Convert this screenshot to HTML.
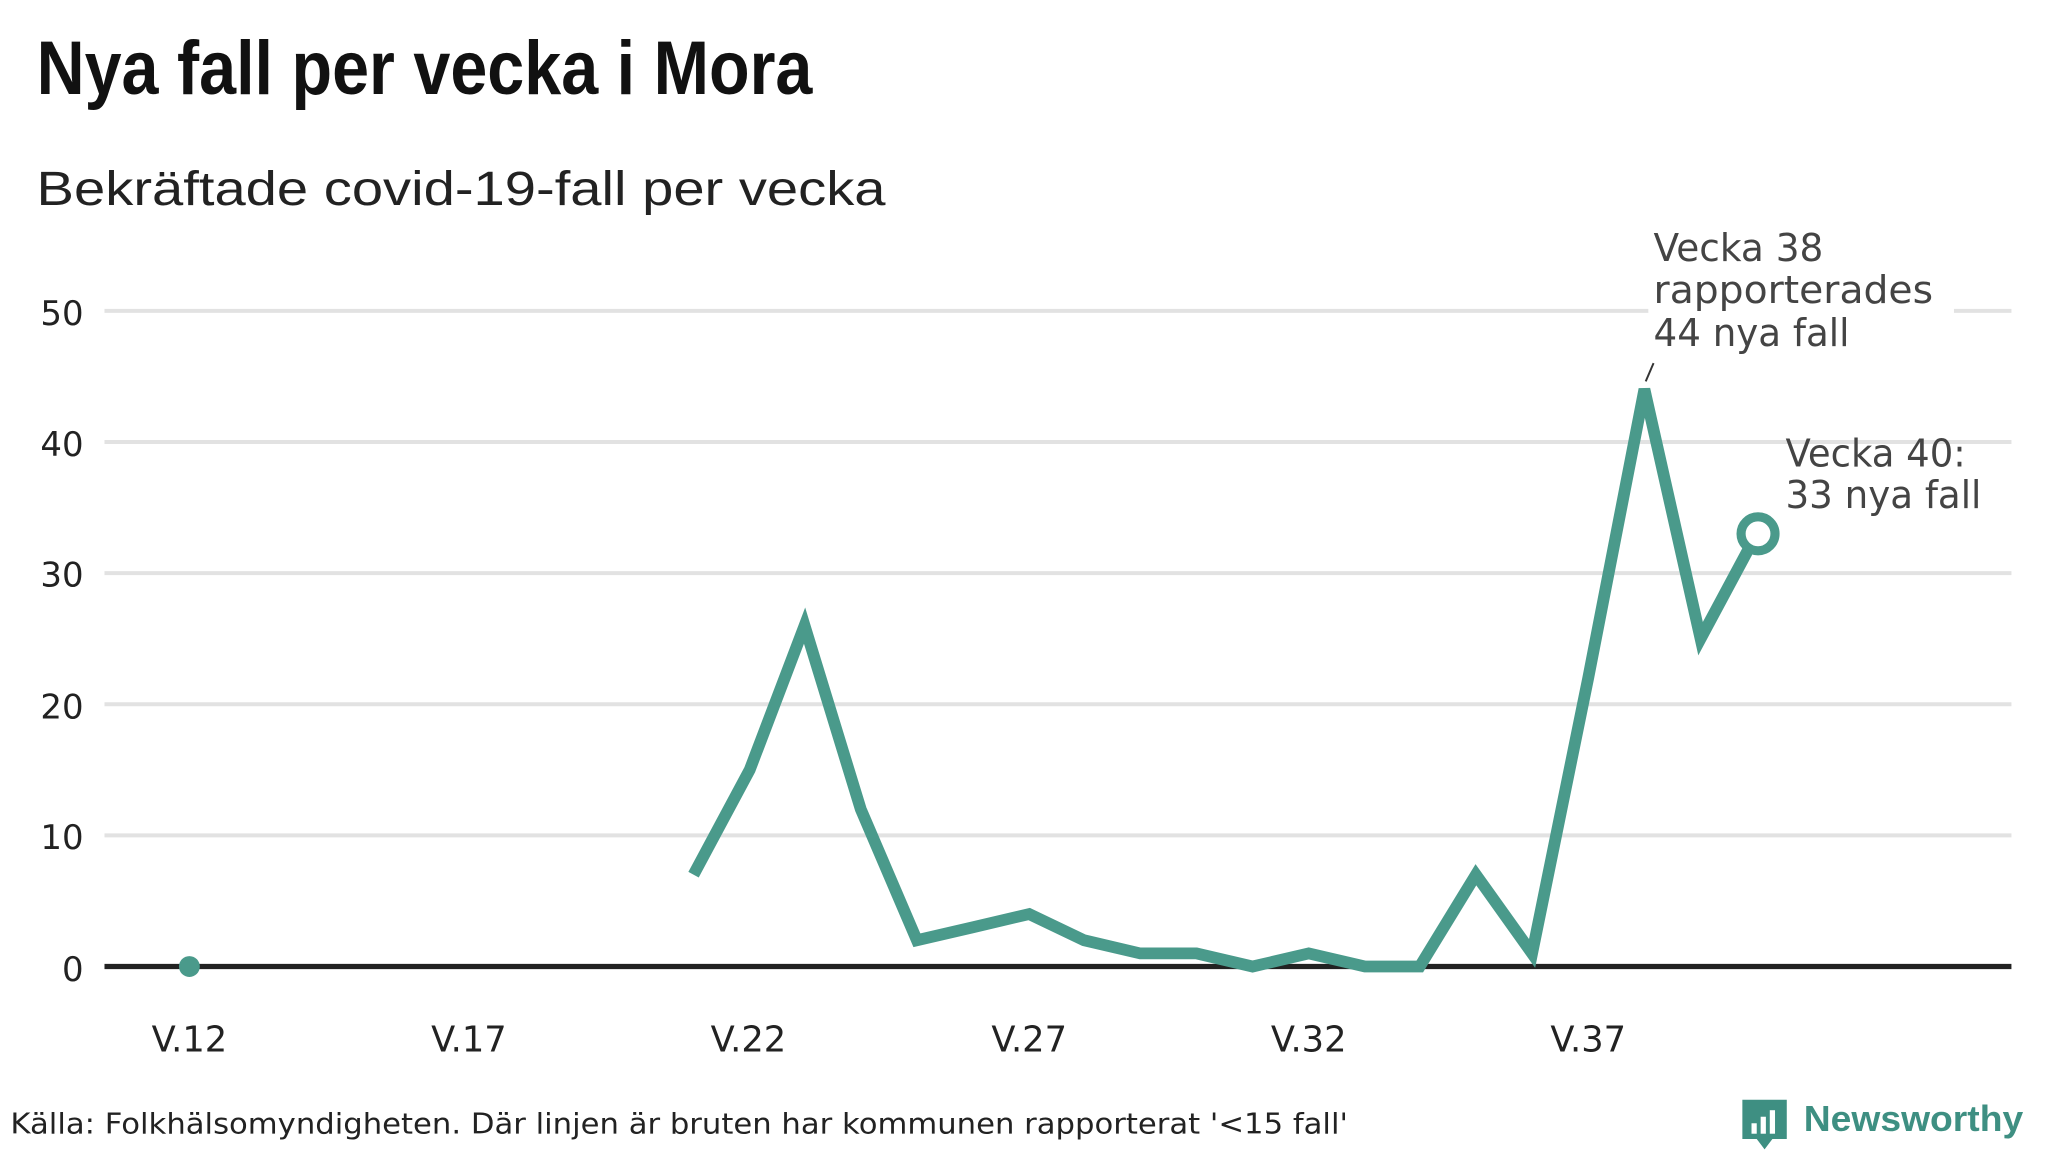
<!DOCTYPE html>
<html><head><meta charset="utf-8"><style>
html,body{margin:0;padding:0;background:#fff;}
svg{display:block;}
text{font-family:"DejaVu Sans","Liberation Sans",sans-serif;}
</style></head><body>
<svg width="2048" height="1152" viewBox="0 0 1568 882" preserveAspectRatio="none" xmlns="http://www.w3.org/2000/svg">
<rect width="1568" height="882" fill="#fff"/>
<text x="28" y="72" font-size="58" font-weight="bold" style="font-family:'Liberation Sans Narrow','Liberation Sans',sans-serif" fill="#111" textLength="594" lengthAdjust="spacingAndGlyphs">Nya fall per vecka i Mora</text>
<text x="28" y="157" font-size="37" fill="#222" style="font-family:'Liberation Sans',sans-serif" textLength="650" lengthAdjust="spacingAndGlyphs">Bekräftade covid-19-fall per vecka</text>
<g stroke="#e2e2e2" stroke-width="3">
<line x1="80" x2="1540" y1="238" y2="238"/>
<line x1="80" x2="1540" y1="338.4" y2="338.4"/>
<line x1="80" x2="1540" y1="438.8" y2="438.8"/>
<line x1="80" x2="1540" y1="539.2" y2="539.2"/>
<line x1="80" x2="1540" y1="639.6" y2="639.6"/>
</g>
<line x1="80" x2="1540" y1="740" y2="740" stroke="#222" stroke-width="4"/>
<g font-size="26" fill="#222" text-anchor="end">
<text x="64" y="249">50</text><text x="64" y="349">40</text><text x="64" y="449">30</text>
<text x="64" y="550">20</text><text x="64" y="650">10</text><text x="64" y="751">0</text>
</g>
<g font-size="27" fill="#222" text-anchor="middle">
<text x="145" y="805">V.12</text><text x="359" y="805">V.17</text><text x="573" y="805">V.22</text>
<text x="788" y="805">V.27</text><text x="1002" y="805">V.32</text><text x="1216" y="805">V.37</text>
</g>
<polyline fill="none" stroke="#4a9a8b" stroke-width="9" stroke-linejoin="miter" points="531,669.7 574,589.4 616,479 659,619.5 702,719.9 745,709.9 788,699.8 830,719.9 873,729.96 916,729.96 959,740 1002,729.96 1045,740 1087,740 1130,669.7 1173,729.96 1216,519 1259,298 1302,489 1345,408.7"/>
<circle cx="145" cy="740" r="8" fill="#4a9a8b"/>
<circle cx="1346" cy="408.7" r="13" fill="#fff" stroke="#4a9a8b" stroke-width="7"/>
<line x1="1260" y1="292" x2="1266" y2="278" stroke="#333" stroke-width="1.5"/>
<rect x="1262" y="228" width="234" height="20" fill="#fff"/>
<g font-size="29" fill="#444">
<text x="1266" y="200" textLength="130" lengthAdjust="spacingAndGlyphs">Vecka 38</text>
<text x="1266" y="232" textLength="214" lengthAdjust="spacingAndGlyphs">rapporterades</text>
<text x="1266" y="265" textLength="150" lengthAdjust="spacingAndGlyphs">44 nya fall</text>
<text x="1367" y="357" textLength="138" lengthAdjust="spacingAndGlyphs">Vecka 40:</text>
<text x="1367" y="389" textLength="150" lengthAdjust="spacingAndGlyphs">33 nya fall</text>
</g>
<text x="8" y="868" font-size="22" fill="#222" textLength="1024" lengthAdjust="spacingAndGlyphs">Källa: Folkhälsomyndigheten. Där linjen är bruten har kommunen rapporterat '&lt;15 fall'</text>
<path d="M1334 842 h34 v30 h-11 l-6 8 l-6 -8 h-11 z" fill="#3e8f82"/>
<rect x="1341" y="860" width="4" height="8" fill="#fff"/><rect x="1348" y="855" width="4" height="13" fill="#fff"/><rect x="1355" y="850" width="4" height="18" fill="#fff"/>
<text x="1381" y="866" font-size="28" font-weight="bold" fill="#3e8f82" style="font-family:'Liberation Sans',sans-serif" textLength="168" lengthAdjust="spacingAndGlyphs">Newsworthy</text>
</svg>
</body></html>
